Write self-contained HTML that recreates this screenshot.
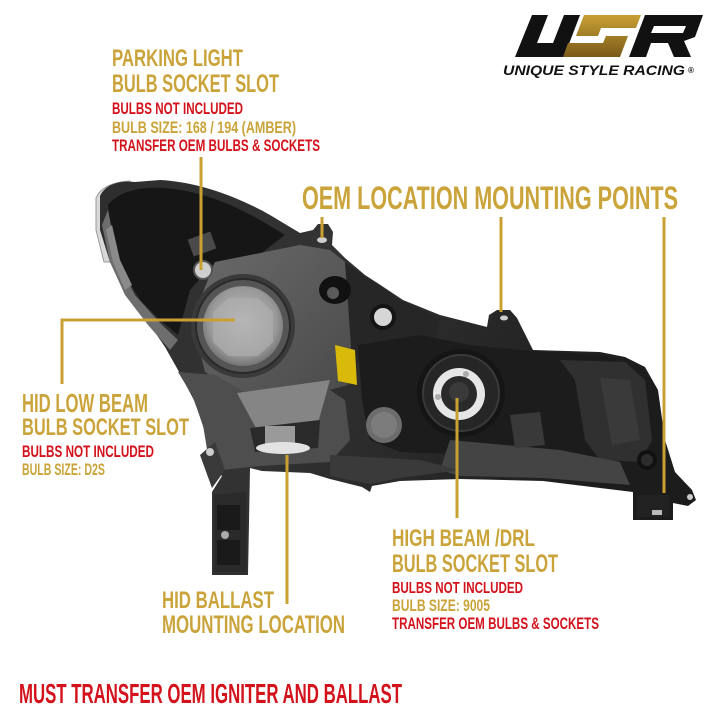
<!DOCTYPE html>
<html><head><meta charset="utf-8"><style>
html,body{margin:0;padding:0;background:#fff;}
svg{display:block;}
text{font-family:"Liberation Sans",Arial,sans-serif;font-weight:bold;}
.g{fill:#caa43a;}
.r{fill:#d3121c;}
</style></head><body>
<svg width="720" height="720" viewBox="0 0 720 720" xmlns="http://www.w3.org/2000/svg">
<defs>
<radialGradient id="lb" cx="0.5" cy="0.45" r="0.6">
<stop offset="0" stop-color="#bcbcbc"/><stop offset="0.7" stop-color="#999"/><stop offset="1" stop-color="#666"/>
</radialGradient>
<linearGradient id="body" x1="0" y1="0" x2="1" y2="0.3">
<stop offset="0" stop-color="#2e2e2e"/><stop offset="0.4" stop-color="#333"/><stop offset="1" stop-color="#1c1c1c"/>
</linearGradient>
<linearGradient id="mid" x1="0" y1="0" x2="1" y2="1">
<stop offset="0" stop-color="#6a6a6a"/><stop offset="1" stop-color="#4a4a4a"/>
</linearGradient>
<linearGradient id="sg" x1="0" y1="0" x2="0" y2="1">
<stop offset="0" stop-color="#c9a035"/><stop offset="1" stop-color="#7a5a18"/>
</linearGradient>
</defs>

<!-- LOGO -->
<path d="M532,15 H548 L537,43 H553 L564,15 H580 L564,57 H515 Z" fill="#111"/>
<path d="M584,15 H641 L636,28 H601 L598,36 H628 L620,57 H563 L568,43 H603 L606,36 H576 Z" fill="url(#sg)"/>
<path d="M645,15 H703 L695,37 L684,41 L691,57 H674 L668,43 H651 L646,57 H629 Z M654,26 L651,33 H683 L686,26 Z" fill="#111" fill-rule="evenodd"/>
<text x="503" y="75" font-size="13.5" font-style="italic" textLength="182" lengthAdjust="spacingAndGlyphs" fill="#111">UNIQUE STYLE RACING</text>
<text x="688" y="73" font-size="8" fill="#111" font-weight="normal">®</text>

<!-- HEADLIGHT -->
<path d="M96,198 C100,188 112,182 130,181 L130,190 C115,192 106,200 104,215 L112,262 L104,262 L96,230 Z" fill="#d8d8d8" stroke="#999" stroke-width="1"/>
<path d="M100,196 C105,185 118,180 135,182 L160,180 C200,182 240,198 270,215 L300,233 L313,230 L318,224 L328,224 L333,232 L332,245 L345,258 L365,275 L385,288 L403,300 L440,315 L487,327 L489,315 L497,310 L510,310 L517,318 L533,350 L600,352 L625,357 L645,367 L658,390 L665,440 L675,472 L692,490 L696,500 L688,506 L673,503 L673,520 L633,520 L633,492 L600,488 L543,481 L460,479 L400,481 L372,486 L370,492 L362,487 L330,479 L310,473 L262,471 L250,468 L248,575 L212,575 L212,492 L222,476 L208,458 L205,432 L195,402 L178,370 L165,347 L148,322 L125,294 L110,262 L100,230 Z" fill="url(#body)"/>
<!-- left housing -->
<path d="M108,205 C118,192 140,186 165,188 C210,192 245,210 285,235 L255,258 L215,262 L190,290 L178,335 L160,320 L140,300 L122,270 L112,235 Z" fill="#161616"/>
<path d="M108,210 L118,262 L135,295 L160,323 L178,340 L170,350 L148,325 L125,295 L110,262 L102,225 Z" fill="#6e6e6e"/>
<path d="M112,225 L120,260 L132,285 L125,290 L113,262 L106,230 Z" fill="#8a8a8a"/>
<!-- middle block -->
<path d="M215,262 L300,245 L330,250 L345,262 L352,330 L348,385 L300,398 L240,395 L205,372 L192,320 Z" fill="url(#mid)"/>
<path d="M345,262 L400,300 L440,318 L430,360 L380,372 L352,360 Z" fill="#262626"/>
<!-- lower left gray area -->
<path d="M178,372 L215,375 L250,395 L330,390 L345,400 L350,440 L330,462 L260,466 L222,470 L208,455 L203,425 L192,395 Z" fill="#4e4e4e"/>
<!-- low beam socket -->
<circle cx="243" cy="326" r="52" fill="#3a3a3a"/>
<circle cx="243" cy="326" r="47" fill="#555" stroke="#2a2a2a" stroke-width="2"/>
<circle cx="243" cy="326" r="40" fill="url(#lb)"/>
<path d="M213,312 L228,298 L258,298 L273,312 L273,342 L258,356 L228,356 L213,342 Z" fill="#b0b0b0" opacity="0.6"/>
<!-- parking bulb socket -->
<circle cx="203" cy="270" r="9" fill="#cfcfcf" stroke="#555" stroke-width="2"/>
<rect x="190" y="235" width="24" height="18" fill="#4a4a4a" transform="rotate(-20 202 244)"/>
<!-- tab holes -->
<ellipse cx="322" cy="240" rx="5" ry="3" fill="#cfcfcf"/>
<ellipse cx="504" cy="318" rx="4" ry="2.5" fill="#cfcfcf"/>
<!-- bolt -->
<circle cx="383" cy="317" r="13" fill="#151515"/>
<circle cx="383" cy="317" r="9" fill="#d6d6d6"/>
<!-- socket near tab -->
<ellipse cx="335" cy="290" rx="16" ry="14" fill="#111"/>
<circle cx="333" cy="293" r="6" fill="#5a5a5a"/>
<!-- yellow sticker -->
<path d="M335,345 L355,350 L357,385 L338,381 Z" fill="#d9b90a"/>
<!-- right dark area -->
<path d="M358,345 L420,335 L470,345 L520,350 L600,355 L640,368 L655,395 L660,445 L640,470 L560,462 L480,455 L400,452 L370,440 L362,400 Z" fill="#1c1c1c"/>
<path d="M560,360 L625,362 L645,380 L652,440 L640,462 L600,460 L585,440 L575,380 Z" fill="#303030"/>
<path d="M600,378 L630,380 L640,440 L612,445 Z" fill="#3a3a3a"/>
<!-- ribbed bottom -->
<path d="M450,440 L560,450 L620,462 L630,485 L543,478 L460,476 L440,470 Z" fill="#444"/>
<path d="M330,455 L420,460 L460,470 L400,478 L370,484 L330,476 Z" fill="#3a3a3a"/>
<!-- high beam socket -->
<circle cx="461" cy="393" r="44" fill="#151515"/>
<circle cx="461" cy="393" r="38" fill="#262626" stroke="#3a3a3a" stroke-width="2"/>
<circle cx="459" cy="394" r="26" fill="#e6e6e6"/>
<circle cx="459" cy="394" r="18" fill="#2a2a2a"/>
<circle cx="459" cy="392" r="10" fill="#3a3a3a"/>
<circle cx="438" cy="397" r="3" fill="#aaa"/>
<circle cx="466" cy="374" r="3" fill="#aaa"/>
<!-- small box right -->
<path d="M510,415 L540,412 L545,445 L515,448 Z" fill="#393939"/>
<!-- grey dome -->
<circle cx="384" cy="425" r="18" fill="#6c6c6c"/>
<circle cx="384" cy="425" r="13" fill="#7c7c7c"/>
<!-- ballast tab -->
<path d="M237,393 L330,380 L318,423 L257,430 Z" fill="#858585"/>
<path d="M250,428 L320,420 L318,448 L255,452 Z" fill="#2a2a2a"/>
<rect x="265" y="426" width="30" height="18" fill="#9a9a9a"/>
<ellipse cx="283" cy="448" rx="27" ry="6" fill="#e2e2e2"/>
<!-- left bracket detail -->
<path d="M214,495 L246,492 L246,572 L214,572 Z" fill="#2a2a2a"/>
<path d="M217,505 L240,505 L240,530 L217,530 Z" fill="#1a1a1a"/>
<path d="M217,540 L240,540 L240,565 L217,565 Z" fill="#1a1a1a"/>
<circle cx="225" cy="535" r="4" fill="#aaa"/>
<path d="M200,455 L215,442 L225,470 L212,488 Z" fill="#3a3a3a"/>
<circle cx="210" cy="452" r="4" fill="#ccc"/>
<!-- bottom right bolt & bracket -->
<circle cx="647" cy="460" r="10" fill="#111"/>
<circle cx="647" cy="460" r="6" fill="#2c2c2c"/>
<rect x="637" y="495" width="32" height="22" fill="#222"/>
<rect x="652" y="510" width="10" height="5" fill="#bbb"/>
<circle cx="690" cy="497" r="3" fill="#ccc"/>

<!-- GOLD LINES -->
<g stroke="#c9a132" stroke-width="3" fill="none">
<line x1="201" y1="157" x2="201" y2="270"/>
<polyline points="62,384 62,320 235,320"/>
<line x1="322" y1="217" x2="322" y2="238"/>
<line x1="501" y1="217" x2="501" y2="312"/>
<line x1="664" y1="217" x2="664" y2="493"/>
<line x1="287" y1="455" x2="287" y2="604"/>
<line x1="457" y1="398" x2="457" y2="518"/>
</g>

<!-- TEXT -->
<text class="g" x="112" y="66" font-size="24" textLength="131" lengthAdjust="spacingAndGlyphs">PARKING LIGHT</text>
<text class="g" x="112" y="92" font-size="25" textLength="167" lengthAdjust="spacingAndGlyphs">BULB SOCKET SLOT</text>
<text class="r" x="112" y="114" font-size="17" textLength="131" lengthAdjust="spacingAndGlyphs">BULBS NOT INCLUDED</text>
<text class="g" x="112" y="133" font-size="17" textLength="184" lengthAdjust="spacingAndGlyphs">BULB SIZE: 168 / 194 (AMBER)</text>
<text class="r" x="112" y="151" font-size="17" textLength="208" lengthAdjust="spacingAndGlyphs">TRANSFER OEM BULBS &amp; SOCKETS</text>

<text class="g" x="302" y="209" font-size="32" textLength="376" lengthAdjust="spacingAndGlyphs">OEM LOCATION MOUNTING POINTS</text>

<text class="g" x="22" y="412" font-size="26" textLength="126" lengthAdjust="spacingAndGlyphs">HID LOW BEAM</text>
<text class="g" x="22" y="435" font-size="24" textLength="167" lengthAdjust="spacingAndGlyphs">BULB SOCKET SLOT</text>
<text class="r" x="22" y="457" font-size="17" textLength="132" lengthAdjust="spacingAndGlyphs">BULBS NOT INCLUDED</text>
<text class="g" x="22" y="475" font-size="17" textLength="83" lengthAdjust="spacingAndGlyphs">BULB SIZE: D2S</text>

<text class="g" x="392" y="546" font-size="24" textLength="143" lengthAdjust="spacingAndGlyphs">HIGH BEAM /DRL</text>
<text class="g" x="392" y="572" font-size="25" textLength="166" lengthAdjust="spacingAndGlyphs">BULB SOCKET SLOT</text>
<text class="r" x="392" y="593" font-size="16" textLength="131" lengthAdjust="spacingAndGlyphs">BULBS NOT INCLUDED</text>
<text class="g" x="392" y="611" font-size="17" textLength="98" lengthAdjust="spacingAndGlyphs">BULB SIZE: 9005</text>
<text class="r" x="392" y="629" font-size="17" textLength="207" lengthAdjust="spacingAndGlyphs">TRANSFER OEM BULBS &amp; SOCKETS</text>

<text class="g" x="162" y="608" font-size="24" textLength="112" lengthAdjust="spacingAndGlyphs">HID BALLAST</text>
<text class="g" x="162" y="633" font-size="25" textLength="183" lengthAdjust="spacingAndGlyphs">MOUNTING LOCATION</text>

<text class="r" x="19" y="703" font-size="27.5" textLength="383" lengthAdjust="spacingAndGlyphs">MUST TRANSFER OEM IGNITER AND BALLAST</text>
</svg>
</body></html>
